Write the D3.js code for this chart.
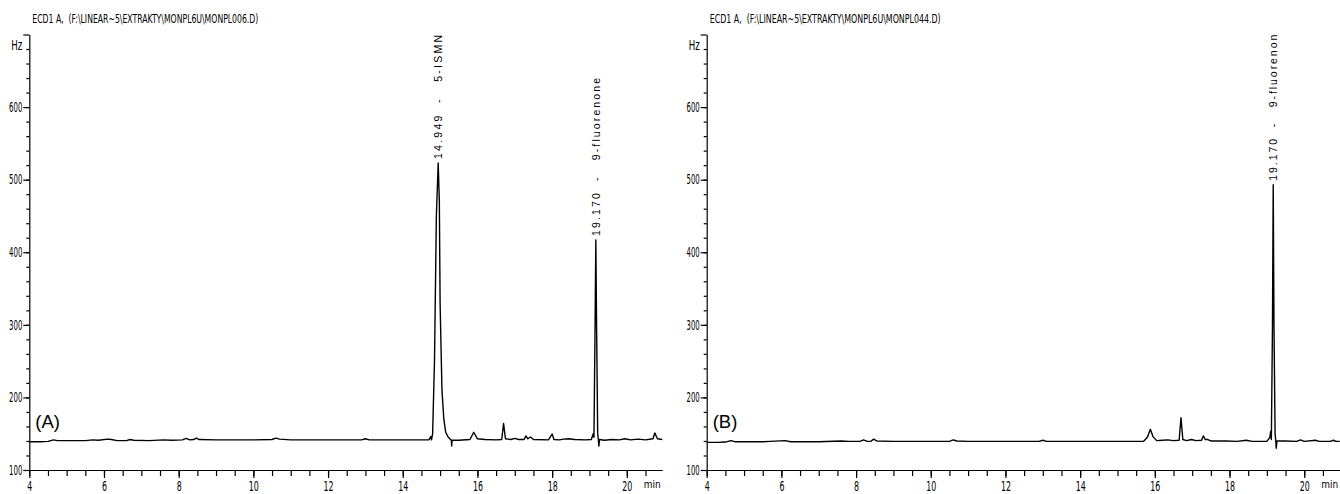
<!DOCTYPE html>
<html>
<head>
<meta charset="utf-8">
<script src="https://cdn.jsdelivr.net/npm/d3@7"></script>
<style>
    body { margin: 0; background: #fff; }
    svg { display: block; }
    text { fill: #000; white-space: pre; }
</style>
</head>
<body>
<div id="chart"></div>
<script>
// ------------------------------------------------------------------
//  two ECD chromatograms side by side
// ------------------------------------------------------------------
const titles = [
    "ECD1 A,  (F:\\LINEAR~5\\EXTRAKTY\\MONPL6U\\MONPL006.D)",
    "ECD1 A,  (F:\\LINEAR~5\\EXTRAKTY\\MONPL6U\\MONPL044.D)"
]
const panelNames = ["(A)", "(B)"]
const xLabels = [4, 6, 8, 10, 12, 14, 16, 18, 20]
const yLabels = [100, 200, 300, 400, 500, 600]

// [min, Hz]
const traceA = [
    [4.0, 139], [4.3, 139], [4.5, 139.5], [4.65, 141.5], [4.75, 140.5], [5.0, 140.5], [5.5, 140.5],
    [5.7, 141.5], [5.85, 141], [6.1, 142.5], [6.2, 142], [6.35, 140.5], [6.6, 140.5], [6.7, 142],
    [6.8, 141], [7.2, 140.5], [7.6, 141.5], [7.8, 141], [8.1, 141.5], [8.2, 143.5], [8.3, 141.5],
    [8.4, 142], [8.47, 144], [8.55, 142], [9.0, 141.5], [9.5, 141.5], [10.0, 141.5], [10.5, 142],
    [10.6, 144], [10.7, 142.5], [11.0, 141.5], [12.0, 141.5], [12.9, 141.5], [13.0, 143], [13.1, 141.5],
    [14.0, 141.5], [14.7, 141.5], [14.75, 146], [14.77, 141.5], [14.8, 150], [14.85, 250], [14.9, 450],
    [14.949, 523], [14.98, 470], [15.0, 330], [15.05, 210], [15.1, 170], [15.15, 152], [15.22, 145],
    [15.28, 142], [15.3, 141], [15.31, 133], [15.32, 141], [15.5, 141], [15.8, 142], [15.9, 152],
    [16.0, 143], [16.2, 142], [16.5, 141.5], [16.65, 142], [16.7, 164], [16.75, 143], [16.9, 142],
    [17.0, 143.5], [17.1, 142], [17.25, 142], [17.3, 147], [17.35, 143], [17.42, 145.5], [17.5, 142],
    [17.9, 141.5], [18.0, 149.5], [18.05, 142], [18.2, 141.5], [18.3, 142.5], [18.45, 143], [18.6, 142],
    [18.9, 141.5], [19.05, 142], [19.1, 150], [19.12, 145], [19.15, 300], [19.17, 417], [19.19, 300],
    [19.22, 150], [19.24, 141], [19.25, 133], [19.27, 142], [19.4, 141], [19.6, 142], [19.8, 141.5],
    [19.95, 143], [20.1, 141.5], [20.3, 142.5], [20.5, 141.5], [20.7, 143], [20.75, 151], [20.82, 143],
    [20.95, 142]
]
const traceB = [
    [4.0, 138], [4.3, 138], [4.5, 138.5], [4.65, 140.5], [4.75, 139], [5.0, 139], [5.5, 139],
    [5.7, 139.5], [6.1, 140.5], [6.25, 139], [6.6, 139], [7.0, 139], [7.6, 140], [7.8, 139.5],
    [8.1, 139.5], [8.2, 141.5], [8.3, 139.5], [8.4, 139.5], [8.47, 142.5], [8.55, 140], [9.0, 139.5],
    [9.5, 139.5], [10.0, 139.5], [10.5, 139.5], [10.6, 141.5], [10.7, 140], [11.0, 139.5], [12.0, 139.5],
    [12.9, 139.5], [13.0, 141], [13.1, 139.5], [14.0, 139.5], [15.0, 139.5], [15.7, 139.5], [15.8, 145],
    [15.88, 156], [15.95, 146], [16.05, 140.5], [16.2, 141], [16.35, 141.5], [16.5, 140.5], [16.65, 141],
    [16.7, 172], [16.75, 142], [16.85, 140.5], [16.98, 142], [17.1, 140.5], [17.25, 141], [17.3, 147],
    [17.35, 142], [17.42, 142], [17.5, 140], [17.9, 140], [18.2, 139.5], [18.45, 141], [18.6, 139.5],
    [19.0, 139.5], [19.08, 145], [19.1, 153], [19.12, 142], [19.15, 300], [19.17, 493], [19.19, 300],
    [19.22, 150], [19.24, 139], [19.25, 130], [19.27, 140], [19.5, 140], [19.8, 139.5], [19.9, 141.5],
    [20.0, 139.5], [20.3, 141], [20.4, 139.5], [20.7, 139.5], [20.78, 141], [20.85, 139.5], [20.95, 139.5]
]

const peaksA = [
    { t: 14.949, hz: 523, label: "14.949  -   5-ISMN", len: 124 },
    { t: 19.170, hz: 417, label: "19.170  -   9-fluorenone", len: 158 }
]
const peaksB = [
    { t: 19.170, hz: 493, label: "19.170  -   9-fluorenon", len: 146 }
]

const panels = [
    { left: 29.3, title: titles[0], name: panelNames[0], trace: traceA, peaks: peaksA, titleLen: 226 },
    { left: 706.7, title: titles[1], name: panelNames[1], trace: traceB, peaks: peaksB, titleLen: 231 }
]

const margin = { top: 34.5, bottom: 24 }
const width = 633
const height = 494 - margin.top - margin.bottom
const narrow = "'Liberation Sans Narrow', 'DejaVu Sans Condensed', sans-serif"

const svg = d3.select("#chart").append("svg")
    .attr("width", 1340)
    .attr("height", 494)

panels.forEach(function (p) { drawPanel(p) })

// ------------------------------------------------------------------
function squeeze(sel, perChar) {
    sel.attr("textLength", function () { return this.textContent.length * perChar })
        .attr("lengthAdjust", "spacingAndGlyphs")
}

function drawPanel(p) {
    const x = d3.scaleLinear().domain([4, 20.95]).range([0, width])
    const y = d3.scaleLinear().domain([100, 700]).range([height, 0])

    const g = svg.append("g")
        .attr("transform", "translate(" + p.left + "," + margin.top + ")")

    // title
    g.append("text")
        .attr("x", 3)
        .attr("y", -12)
        .style("font-family", narrow)
        .style("font-size", "11.5px")
        .attr("textLength", p.titleLen)
        .attr("lengthAdjust", "spacingAndGlyphs")
        .text(p.title)

    // x axis: minor ticks then labelled ones
    g.append("g")
        .attr("transform", "translate(0," + height + ")")
        .call(d3.axisBottom(x).tickValues(d3.range(4, 21, 0.5)).tickSize(6).tickFormat(""))
        .call(function (a) { a.select(".domain").remove() })
    const xa = g.append("g")
        .attr("transform", "translate(0," + height + ")")
        .call(d3.axisBottom(x).tickValues(xLabels).tickSize(8).tickPadding(3).tickSizeOuter(0))
    xa.selectAll("text")
        .style("font-family", narrow)
        .style("font-size", "14px")
        .call(squeeze, 5)

    g.append("text")
        .attr("x", width - 1.5)
        .attr("y", height + 18)
        .attr("text-anchor", "end")
        .style("font-family", narrow)
        .style("font-size", "10px")
        .text("min")

    // y axis
    g.append("g")
        .call(d3.axisLeft(y).tickValues(d3.range(120, 700, 20)).tickSize(3).tickFormat(""))
        .call(function (a) { a.select(".domain").remove() })
    const ya = g.append("g")
        .call(d3.axisLeft(y).tickValues(yLabels.concat([700])).tickSize(6).tickPadding(1).tickSizeOuter(0)
            .tickFormat(function (d) { return d === 700 ? "" : d }))
    ya.selectAll("text")
        .style("font-family", narrow)
        .style("font-size", "13.5px")
        .call(squeeze, 4.4)
    g.selectAll(".domain, .tick line").attr("stroke", "#000").attr("stroke-width", 1.2)

    g.append("text")
        .attr("x", -7)
        .attr("y", y(685))
        .attr("dy", "0.35em")
        .attr("text-anchor", "end")
        .style("font-family", narrow)
        .style("font-size", "13.5px")
        .attr("textLength", 11)
        .attr("lengthAdjust", "spacingAndGlyphs")
        .text("Hz")

    // panel letter
    g.append("text")
        .attr("x", 6)
        .attr("y", y(158))
        .style("font-family", "'Liberation Sans', Arial, sans-serif")
        .style("font-size", "18.5px")
        .text(p.name)

    // trace
    const line = d3.line()
        .x(function (d) { return x(d[0]) })
        .y(function (d) { return y(d[1]) })
    g.append("path")
        .datum(p.trace)
        .attr("fill", "none")
        .attr("stroke", "#000")
        .attr("stroke-width", 1.4)
        .attr("stroke-linejoin", "round")
        .attr("d", line)

    // peak labels, rotated
    g.selectAll(".peak")
        .data(p.peaks)
        .enter().append("text")
        .attr("class", "peak")
        .attr("transform", function (d) {
            return "translate(" + x(d.t) + "," + (y(d.hz) - 4) + ") rotate(-90)"
        })
        .attr("dy", "0.35em")
        .style("font-family", "'Liberation Sans', Arial, sans-serif")
        .style("font-size", "10.5px")
        .attr("textLength", function (d) { return d.len })
        .attr("lengthAdjust", "spacing")
        .text(function (d) { return d.label })
}
</script>
</body>
</html>
